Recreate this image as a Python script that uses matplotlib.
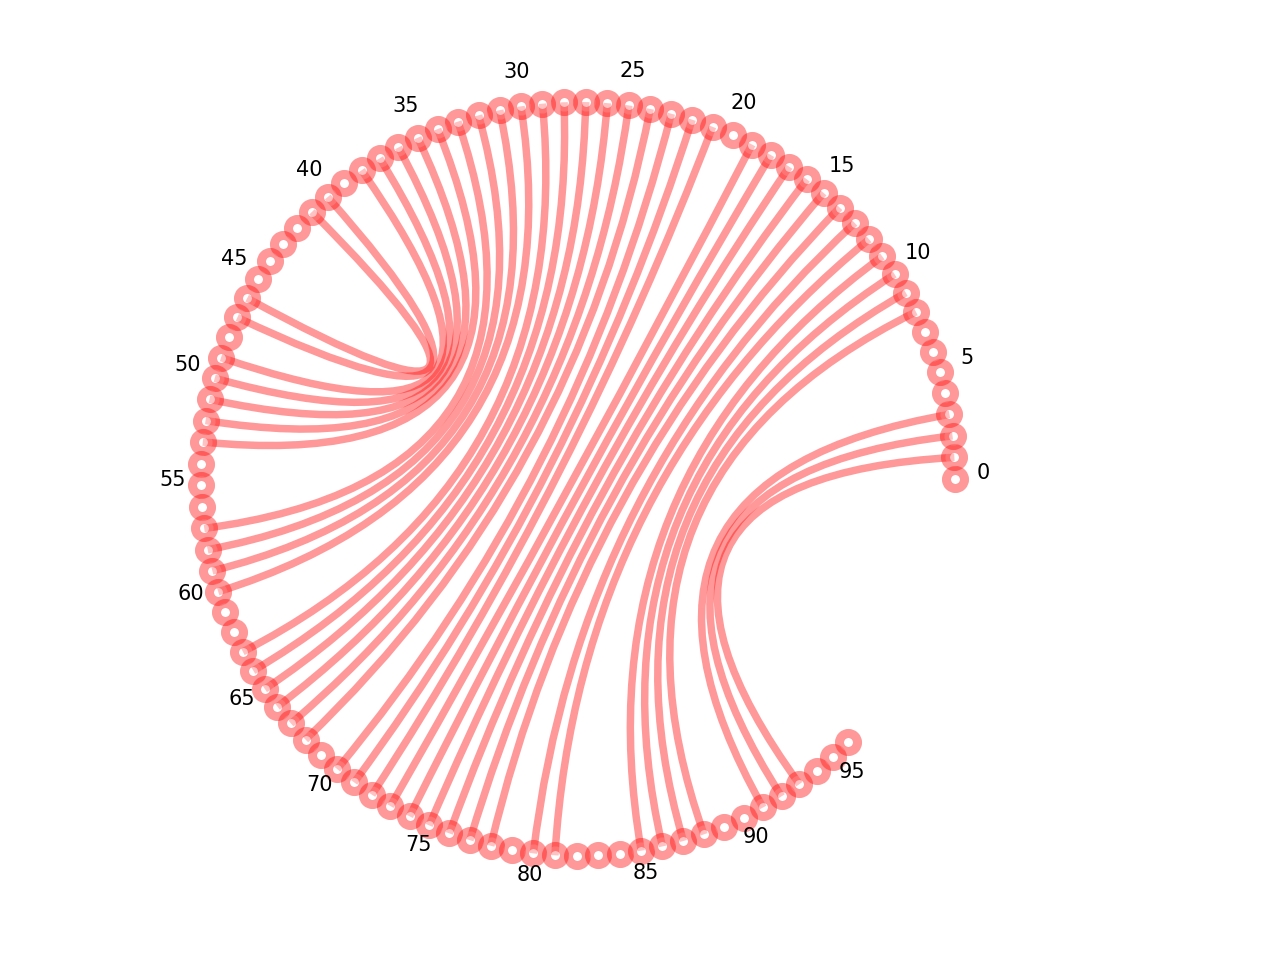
import numpy as np
import matplotlib
matplotlib.use("Agg")
import matplotlib.pyplot as plt
from matplotlib.path import Path
from matplotlib.patches import PathPatch

# nodes around the circle and the pairs joined by chords
n_nodes = 97
pair_start = [1, 2, 3, 8, 9, 10, 11, 12, 13, 14, 15, 16, 17, 18, 19, 21, 22, 23,
              24, 25, 26, 27, 28, 29, 30, 31, 32, 33, 34, 35, 36, 37, 38, 40, 41]
pair_end = [93, 92, 91, 88, 87, 86, 85, 81, 80, 78, 77, 76, 75, 74, 73, 72, 71, 70,
            68, 67, 66, 65, 64, 63, 60, 59, 58, 57, 53, 52, 51, 50, 49, 47, 46]
label_nodes = list(range(0, n_nodes, 5))

step = np.deg2rad(3.29)
theta = np.arange(n_nodes) * step
xs = np.cos(theta)
ys = np.sin(theta)

fig = plt.figure(figsize=(12.8, 9.6), dpi=100)
ax = fig.add_axes([0, 0, 1, 1])

for a, b in zip(pair_start, pair_end):
    verts = [(xs[a], ys[a]), (0.0, 0.0), (xs[b], ys[b])]
    path = Path(verts, [Path.MOVETO, Path.CURVE3, Path.CURVE3])
    ax.add_patch(PathPatch(path, facecolor='none', edgecolor='red',
                           lw=5.4, alpha=0.4, zorder=1))

ax.plot(xs, ys, 'o', ms=13, mfc='white', mec='red', mew=6.5,
        alpha=0.4, zorder=2, linestyle='none')

for i in label_nodes:
    ax.text(1.075 * xs[i], 1.075 * ys[i], str(i), ha='center', va='baseline',
            fontsize=15)

# place the circle: centre at (578, 479) px, radius 377 px
r_px, cx, cy = 377.0, 578.0, 479.0
ax.set_xlim(-cx / r_px, (1280 - cx) / r_px)
ax.set_ylim(-(960 - cy) / r_px, cy / r_px)
ax.axis('off')

fig.savefig('out.png', dpi=100)
